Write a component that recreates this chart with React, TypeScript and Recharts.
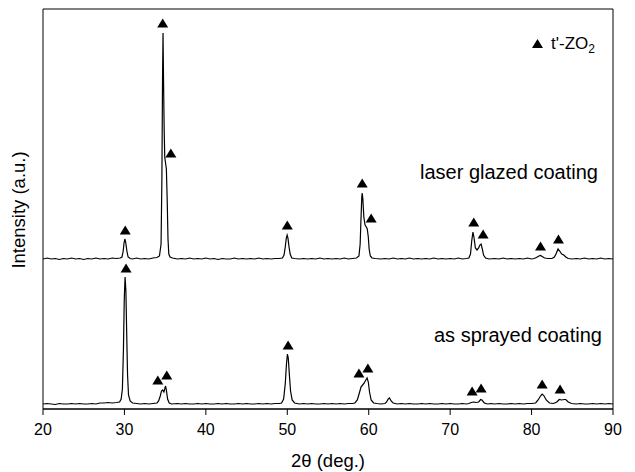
import { ComposedChart, Line, Scatter, XAxis, YAxis, ReferenceArea, Customized } from 'recharts';

// XRD patterns, [2theta, intensity a.u.]
const GLAZED: [number, number][] = [
  [20, 150], [20.5, 151], [21, 150], [21.5, 150.5], [22, 149.5], [22.5, 150.5], [23, 150], [23.5, 151],
  [24, 150], [24.5, 150.5], [25, 149.5], [25.5, 150.5], [26, 150], [26.5, 151], [27, 150], [27.5, 150.5],
  [28, 150], [28.5, 151], [29, 150.5], [29.5, 151], [29.7, 152], [29.85, 158], [29.95, 166], [30.05, 170],
  [30.15, 167], [30.3, 158], [30.45, 152], [30.7, 150.5], [31, 150], [31.5, 151], [32, 150], [32.5, 150.5],
  [33, 150], [33.5, 151], [34, 151.5], [34.3, 153], [34.5, 165], [34.6, 230], [34.68, 330], [34.74, 376],
  [34.8, 330], [34.88, 280], [34.95, 252], [35.05, 246], [35.15, 240], [35.25, 210], [35.35, 170], [35.45, 155],
  [35.6, 152], [35.9, 151], [36.5, 150], [37, 150.5], [37.5, 150], [38, 151], [38.5, 150], [39, 150.5],
  [39.5, 150], [40, 151], [40.5, 150], [41, 150.5], [41.5, 149.5], [42, 150.5], [42.5, 150], [43, 150],
  [43.5, 151], [44, 150], [44.5, 150.5], [45, 150], [45.5, 150.5], [46, 150], [46.5, 151], [47, 150],
  [47.5, 150.5], [48, 150], [48.5, 150.5], [49, 150.5], [49.4, 151], [49.6, 154], [49.75, 162], [49.88, 171],
  [49.98, 174], [50.08, 171], [50.2, 163], [50.35, 155], [50.55, 151], [50.9, 150.5], [51.5, 150], [52, 150.5],
  [52.5, 150], [53, 150.5], [53.5, 150], [54, 151], [54.5, 150], [55, 150.5], [55.5, 150], [56, 150.5],
  [56.5, 150], [57, 151], [57.5, 150], [58, 150.5], [58.5, 151], [58.8, 153], [58.95, 165], [59.05, 190],
  [59.15, 212], [59.2, 216], [59.28, 210], [59.4, 192], [59.55, 184], [59.7, 182], [59.82, 180], [59.95, 172],
  [60.05, 160], [60.2, 153], [60.4, 151], [60.8, 150.5], [61.5, 150], [62, 150.5], [62.5, 150], [63, 151],
  [63.5, 150], [64, 150.5], [64.5, 150], [65, 151], [65.5, 150], [66, 150.5], [66.5, 150], [67, 150.5],
  [67.5, 150], [68, 151], [68.5, 150], [69, 150.5], [69.5, 150], [70, 150.5], [70.5, 150], [71, 151],
  [71.5, 150], [72, 150.5], [72.3, 151], [72.5, 155], [72.65, 168], [72.8, 177], [72.92, 172], [73.1, 161],
  [73.3, 159], [73.5, 161], [73.65, 164], [73.8, 165], [73.95, 160], [74.1, 154], [74.35, 151], [74.8, 150],
  [75.5, 150.5], [76, 150], [76.5, 151], [77, 150], [77.5, 150.5], [78, 150], [78.5, 150.5], [79, 150],
  [79.5, 151], [80, 150], [80.3, 150.5], [80.6, 151.5], [80.9, 153], [81.1, 153.5], [81.3, 152.5], [81.6, 151],
  [82, 150.5], [82.5, 150.5], [82.8, 152], [83, 155], [83.25, 160], [83.45, 158], [83.7, 155], [83.95, 154],
  [84.2, 152], [84.5, 150.5], [85, 150], [85.5, 150.5], [86, 150], [86.5, 151], [87, 150], [87.5, 150.5],
  [88, 150], [88.5, 151], [89, 150], [89.5, 150.5], [90, 150],
];

const SPRAYED: [number, number][] = [
  [20, 5], [20.5, 5.5], [21, 5], [21.5, 4.5], [22, 5.5], [22.5, 5], [23, 5], [23.5, 5.5],
  [24, 5], [24.5, 5.5], [25, 5], [25.5, 5], [26, 5.5], [26.5, 5], [27, 6], [27.5, 6],
  [28, 6.5], [28.5, 6], [29, 6.5], [29.4, 7], [29.6, 10], [29.75, 20], [29.88, 60], [29.98, 110],
  [30.08, 132], [30.18, 118], [30.28, 75], [30.38, 35], [30.5, 14], [30.7, 8], [31, 6], [31.5, 5.5],
  [32, 5], [32.5, 5.5], [33, 5], [33.5, 5.5], [34, 6], [34.2, 8], [34.4, 13], [34.55, 18],
  [34.7, 19], [34.85, 17], [34.95, 20], [35.05, 23], [35.15, 19], [35.3, 10], [35.5, 6], [35.8, 5],
  [36.5, 5.5], [37, 5], [37.5, 5.5], [38, 5], [38.5, 5], [39, 5.5], [39.5, 5], [40, 5.5],
  [40.5, 5], [41, 5], [41.5, 5.5], [42, 5], [42.5, 5.5], [43, 5], [43.5, 5], [44, 5.5],
  [44.5, 5], [45, 5.5], [45.5, 5], [46, 5], [46.5, 5.5], [47, 5], [47.5, 5.5], [48, 5],
  [48.5, 5.5], [49, 5.5], [49.3, 6], [49.55, 10], [49.75, 25], [49.9, 45], [50.02, 55], [50.12, 51],
  [50.25, 35], [50.4, 18], [50.6, 9], [50.9, 6], [51.5, 5], [52, 5.5], [52.5, 5], [53, 5.5],
  [53.5, 5], [54, 5], [54.5, 5.5], [55, 5], [55.5, 5.5], [56, 5], [56.5, 5.5], [57, 5],
  [57.5, 5.5], [58, 5.5], [58.3, 6], [58.6, 9], [58.85, 16], [59.05, 22], [59.25, 24], [59.45, 26],
  [59.65, 29], [59.8, 31], [59.95, 27], [60.1, 17], [60.3, 9], [60.6, 6], [61, 5.5], [61.5, 5],
  [62, 5.5], [62.2, 7], [62.4, 10], [62.55, 11], [62.75, 8], [63, 6], [63.5, 5], [64, 5.5],
  [64.5, 5], [65, 5.5], [65.5, 5], [66, 5], [66.5, 5.5], [67, 5], [67.5, 5.5], [68, 5],
  [68.5, 5], [69, 5.5], [69.5, 5], [70, 5.5], [70.5, 5], [71, 5], [71.5, 5.5], [72, 5],
  [72.3, 5.5], [72.6, 6.5], [72.9, 7], [73.2, 6.5], [73.5, 7], [73.75, 9.5], [73.9, 9], [74.2, 6],
  [74.6, 5], [75, 5.5], [75.5, 5], [76, 5.5], [76.5, 5], [77, 5], [77.5, 5.5], [78, 5],
  [78.5, 5.5], [79, 5], [79.5, 5.5], [80, 5.5], [80.5, 6], [80.8, 9], [81.1, 13], [81.3, 15],
  [81.5, 13.5], [81.8, 9], [82.2, 6], [82.7, 5.5], [83.1, 7], [83.4, 9.5], [83.7, 9], [84, 9.5],
  [84.2, 9.5], [84.5, 7], [84.9, 5.5], [85.5, 5], [86, 5.5], [86.5, 5], [87, 5], [87.5, 5.5],
  [88, 5], [88.5, 5.5], [89, 5], [89.5, 5.5], [90, 5],
];

// t'-ZrO2 reflection markers
const GLAZED_MARKS: [number, number][] = [
  [30.1, 179], [34.7, 386], [35.7, 256], [50.0, 184], [59.2, 226],
  [60.3, 191], [72.9, 187], [74.05, 175], [81.1, 163], [83.3, 170],
];
const SPRAYED_MARKS: [number, number][] = [
  [30.2, 141], [34.1, 29], [35.2, 34], [50.1, 64], [58.8, 36],
  [59.9, 41], [72.7, 18], [73.8, 21], [81.3, 25], [83.5, 20],
];

const X_TICKS = [20, 30, 40, 50, 60, 70, 80, 90];

const toPts = (arr: [number, number][]) => arr.map(([x, y]) => ({ x, y }));

const FONT = '"Liberation Sans", Arial, sans-serif';

const Triangle = (props: any) => {
  const { cx, cy } = props;
  return <polygon points={`${cx - 5.5},${cy + 4.5} ${cx + 5.5},${cy + 4.5} ${cx},${cy - 4.5}`} fill="#000" />;
};

const Annotations = () => (
  <g fontFamily={FONT} fill="#000">
    <text x={420} y={179} fontSize={20}>laser glazed coating</text>
    <text x={434} y={342} fontSize={20}>as sprayed coating</text>
    <polygon points="532,48 543,48 537.5,39" fill="#000" />
    <text x={551} y={49} fontSize={17}>
      t'-ZO<tspan dy={4} fontSize={12}>2</tspan>
    </text>
    <text x={18} y={210} fontSize={18.5} textAnchor="middle" dominantBaseline="central" transform="rotate(-90 18 210)">
      Intensity (a.u.)
    </text>
    <text x={328} y={467} fontSize={18.5} textAnchor="middle">2θ (deg.)</text>
  </g>
);

export default function App() {
  return (
    <div style={{ position: 'absolute', left: 0, top: 0, background: '#fff' }}>
      <ComposedChart width={635} height={472} margin={{ top: 9, right: 22, bottom: 23, left: 43 }}>
        <XAxis
          type="number"
          dataKey="x"
          domain={[20, 90]}
          ticks={X_TICKS}
          allowDataOverflow
          height={40}
          stroke="#000"
          tickSize={6}
          tickMargin={9}
          tick={{ fill: '#000', fontSize: 16, fontFamily: FONT }}
        />
        <YAxis type="number" dataKey="y" domain={[0, 400]} hide />
        <ReferenceArea x1={20} x2={90} y1={0} y2={400} fill="none" stroke="#000" strokeWidth={1} fillOpacity={0} />
        <Line data={toPts(GLAZED)} dataKey="y" type="linear" stroke="#000" strokeWidth={1.2} dot={false} isAnimationActive={false} />
        <Line data={toPts(SPRAYED)} dataKey="y" type="linear" stroke="#000" strokeWidth={1.2} dot={false} isAnimationActive={false} />
        <Scatter data={toPts(GLAZED_MARKS)} dataKey="y" shape={Triangle} isAnimationActive={false} />
        <Scatter data={toPts(SPRAYED_MARKS)} dataKey="y" shape={Triangle} isAnimationActive={false} />
        <Customized component={Annotations} />
      </ComposedChart>
    </div>
  );
}
